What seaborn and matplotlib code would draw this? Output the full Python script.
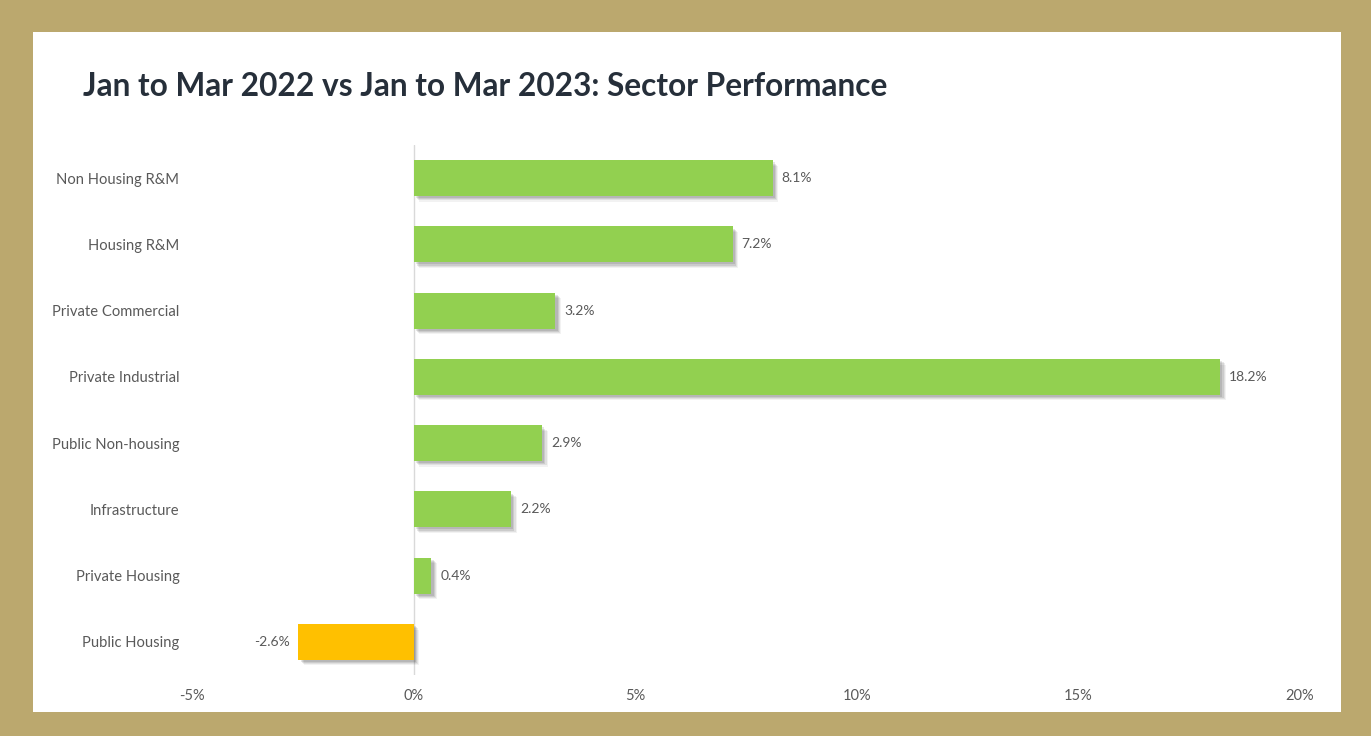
import matplotlib
matplotlib.use("Agg")
import matplotlib.pyplot as plt
import matplotlib.patheffects as pe
from matplotlib.patches import Rectangle
import seaborn as sns
import pandas as pd

sectors = [
    "Non Housing R&M",
    "Housing R&M",
    "Private Commercial",
    "Private Industrial",
    "Public Non-housing",
    "Infrastructure",
    "Private Housing",
    "Public Housing",
]
change_pct = [8.1, 7.2, 3.2, 18.2, 2.9, 2.2, 0.4, -2.6]
x_ticks = [-5, 0, 5, 10, 15, 20]

GREEN = "#92D050"
AMBER = "#FFC000"
GOLD = "#BBA86E"
TEXT = "#595959"

df = pd.DataFrame({"sector": sectors, "change": change_pct})
df["sign"] = ["up" if v >= 0 else "down" for v in df["change"]]

sns.set_theme(style="white")
plt.rcParams["font.family"] = ["Lato", "DejaVu Sans"]

fig = plt.figure(figsize=(13.71, 7.36), dpi=100)
fig.patch.set_facecolor(GOLD)
# white card inside the gold frame
fig.add_artist(Rectangle((33 / 1371, 1 - 712 / 736), (1341 - 33) / 1371, (712 - 32) / 736,
                         transform=fig.transFigure, facecolor="white", edgecolor="none", zorder=0))

ax = fig.add_axes([192 / 1371, 1 - 675 / 736, (1300 - 192) / 1371, (675 - 145) / 736])
ax.set_facecolor("none")

sns.barplot(data=df, y="sector", x="change", hue="sign", order=sectors,
            palette={"up": GREEN, "down": AMBER}, orient="h", width=0.54,
            dodge=False, legend=False, ax=ax, saturation=1, linewidth=0)

# soft drop shadow built from a few stacked offset layers
shadow = [pe.SimplePatchShadow(offset=(d, -d), shadow_rgbFace="#000000", alpha=a)
          for d, a in [(4.0, 0.05), (3.2, 0.07), (2.4, 0.09), (1.6, 0.10)]]
for bar in ax.patches:
    bar.set_edgecolor("none")
    bar.set_path_effects(shadow + [pe.Normal()])

ax.axvline(0, color="#D9D9D9", lw=1, zorder=0)

for i, v in enumerate(change_pct):
    if v >= 0:
        ax.text(v + 0.2, i, f"{v:.1f}%", va="center", ha="left", fontsize=10, color=TEXT)
    else:
        ax.text(v - 0.2, i, f"{v:.1f}%", va="center", ha="right", fontsize=10, color=TEXT)

ax.set_xlim(-5, 20)
ax.set_ylim(len(sectors) - 0.5, -0.5)
ax.set_xticks(x_ticks)
ax.set_xticklabels([f"{t}%" for t in x_ticks], fontsize=10.5, color=TEXT)
ax.tick_params(axis="x", length=0, pad=10)
ax.tick_params(axis="y", length=0, pad=9)
for lbl in ax.get_yticklabels():
    lbl.set_fontsize(10.6)
    lbl.set_color(TEXT)
ax.set_xlabel("")
ax.set_ylabel("")
for s in ax.spines.values():
    s.set_visible(False)

fig.text(83 / 1371, 1 - 87 / 736, "Jan to Mar 2022 vs Jan to Mar 2023: Sector Performance",
         fontsize=22.8, fontweight="bold", color="#262F3A", va="center", ha="left")

fig.savefig("out.png", dpi=100, facecolor=GOLD)
